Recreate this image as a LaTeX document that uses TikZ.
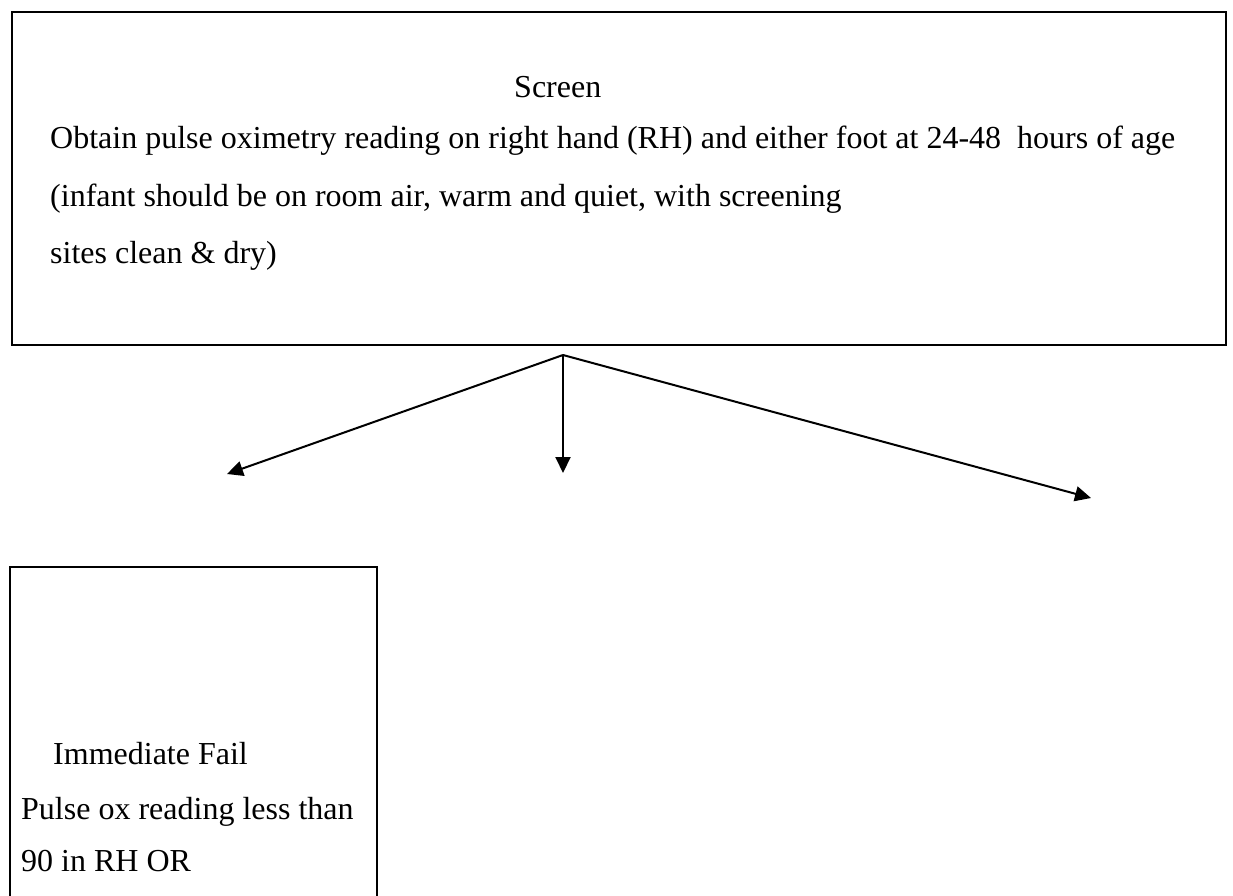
\documentclass[tikz,border=0pt]{standalone}
\usepackage{fontspec}
\setmainfont{Liberation Serif}
\usetikzlibrary{arrows.meta}
\begin{document}
\begin{tikzpicture}[x=1pt,y=-1pt,
  frame/.style={draw, line width=2pt, rectangle, inner sep=0pt},
  txt/.style={inner sep=0pt, anchor=base west, font=\fontsize{32}{55}\selectfont},
  link/.style={line width=2pt, -{Triangle[length=16pt,width=15pt]}}]
\clip (0,0) rectangle (1233,895);
\fill[white] (0,0) rectangle (1233,895);

% screening step
\node[frame, anchor=north west, minimum width=1214pt, minimum height=333pt] (screenbox) at (11,11) {};
\node[txt] (title) at (514,97) {Screen};
\node[txt] (line1) at (50,148) {Obtain pulse oximetry reading on right hand (RH) and either foot at 24-48\ \ hours of age};
\node[txt] (line2) at (50,206) {(infant should be on room air, warm and quiet, with screening};
\node[txt] (line3) at (50,263) {sites clean \& dry)};

% branching arrows
\coordinate (split) at (563,355);
\coordinate (leftend) at (227,474);
\coordinate (midend) at (563,473);
\coordinate (rightend) at (1091,498);
\draw[link] (split) -- (leftend);
\draw[link] (split) -- (midend);
\draw[link] (split) -- (rightend);

% immediate fail step
\node[frame, anchor=north west, minimum width=367pt, minimum height=400pt] (failbox) at (9,566) {};
\node[txt] (fail1) at (53,764) {Immediate Fail};
\node[txt] (fail2) at (21,819) {Pulse ox reading less than};
\node[txt] (fail3) at (21,871) {90 in RH OR};
\end{tikzpicture}
\end{document}
